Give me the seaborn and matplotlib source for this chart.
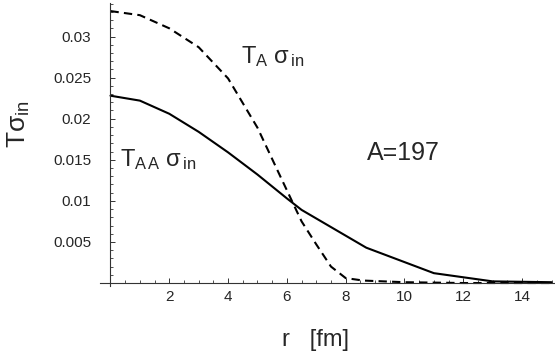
import numpy as np
import pandas as pd
import matplotlib
matplotlib.use("Agg")
import matplotlib.pyplot as plt
from matplotlib.ticker import MultipleLocator, FixedLocator
import seaborn as sns

# T_AA sigma_in (solid)
r_aa = [0, 1, 2, 3, 4, 5, 6, 6.5, 8.7, 11, 13, 15]
t_aa = [0.0228, 0.0222, 0.0206, 0.0184, 0.0159, 0.0132, 0.0103, 0.0089,
        0.0043, 0.0012, 0.0002, 0.0001]

# T_A sigma_in (dashed)
r_a = [0, 1, 2, 3, 4, 5, 5.8, 6.5, 7, 7.5, 8, 8.6, 10, 12, 15]
t_a = [0.0331, 0.0326, 0.0310, 0.0287, 0.0249, 0.0189, 0.0128, 0.0075,
       0.0047, 0.0020, 0.0006, 0.0003, 0.0001, 0.0, 0.0]

x_ticks = [2, 4, 6, 8, 10, 12, 14]
y_ticks = [0.005, 0.01, 0.015, 0.02, 0.025, 0.03]
y_tick_labels = ["0.005", "0.01", "0.015", "0.02", "0.025", "0.03"]

sns.set_style("white")
plt.rcParams["font.family"] = ["Liberation Sans", "DejaVu Sans"]
plt.rcParams["mathtext.fontset"] = "custom"
plt.rcParams["mathtext.rm"] = "Liberation Sans"
plt.rcParams["mathtext.it"] = "Liberation Sans"
plt.rcParams["mathtext.bf"] = "Liberation Sans:bold"

fig = plt.figure(figsize=(5.55, 3.57), dpi=100)
ax = fig.add_axes([0.180, 0.198, 0.819, 0.794])

df_aa = pd.DataFrame({"r": r_aa, "t": t_aa})
df_a = pd.DataFrame({"r": r_a, "t": t_a})

sns.lineplot(data=df_aa, x="r", y="t", ax=ax, color="black", lw=1.5)
sns.lineplot(data=df_a, x="r", y="t", ax=ax, color="black", lw=1.5,
             dashes=False, linestyle=(0, (4, 2.5)))

ax.set_xlim(-0.36, 15.1)
ax.set_ylim(-0.0004, 0.0341)

for s in ["top", "right"]:
    ax.spines[s].set_visible(False)
ax.spines["left"].set_position(("data", 0))
ax.spines["bottom"].set_position(("data", 0))
for s in ["left", "bottom"]:
    ax.spines[s].set_color("#333333")
    ax.spines[s].set_linewidth(0.8)

ax.xaxis.set_major_locator(FixedLocator(x_ticks))
ax.xaxis.set_minor_locator(MultipleLocator(0.5))
ax.yaxis.set_major_locator(FixedLocator(y_ticks))
ax.set_yticklabels(y_tick_labels)
ax.yaxis.set_minor_locator(MultipleLocator(0.001))

ax.tick_params(axis="both", which="both", bottom=True, left=True,
               direction="in", color="#333333")
ax.tick_params(axis="both", which="major", length=3.5, width=0.7, labelsize=11)
ax.tick_params(axis="both", which="minor", length=2, width=0.6)
ax.tick_params(axis="x", which="major", pad=5)
ax.tick_params(axis="y", which="major", pad=14)

ax.set_xlabel("r   [fm]", fontsize=17)
ax.xaxis.set_label_coords(0.475, -0.15)
ax.set_ylabel(r"$T\sigma_{in}$", fontsize=19)
ax.yaxis.set_label_coords(-0.15, 0.573)

ax.text(4.43, 0.0268, r"$T_A\ \sigma_{\,in}$", fontsize=17, va="baseline")
ax.text(0.32, 0.01427, r"$T_{A\,A}\ \sigma_{\,in}$", fontsize=17, va="baseline")
ax.text(8.72, 0.0150, "A=197", fontsize=18, va="baseline")

fig.savefig("out.png", dpi=100)
